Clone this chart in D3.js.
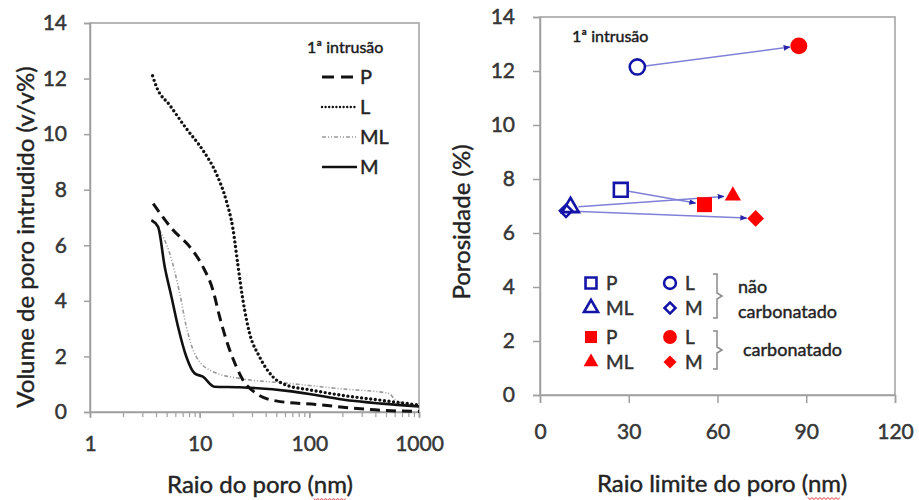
<!DOCTYPE html>
<html>
<head>
<meta charset="utf-8">
<script src="https://cdn.jsdelivr.net/npm/d3@7"></script>
<style>
  html, body { margin: 0; padding: 0; background: #fff; }
  svg { display: block; font-family: Lato, "Open Sans", sans-serif; }
  svg text { stroke: #2a2a2a; stroke-width: 0.45px; }
</style>
</head>
<body>
<svg id="chart" width="919" height="500"></svg>
<script>
// ---- Left panel: cumulative intruded pore volume vs pore radius ----
const poreSeries = ["P", "L", "ML", "M"];
const radiusP  = [3.77, 5.72, 8.1, 10.7, 13.2, 15.2, 17.5, 21.6, 24.8, 32.7, 49.6, 115, 460, 1000];
const volumeP  = [7.5, 6.55, 5.95, 5.23, 4.39, 3.43, 2.59, 1.63, 1.15, 0.67, 0.4, 0.27, 0.06, 0.02];
const radiusL  = [3.72, 4.04, 5.34, 7.56, 10.7, 14.1, 17.5, 20.1, 22.3, 24.8, 28.5, 35.1, 46.4, 61.5, 100, 200, 500, 1000];
const volumeL  = [12.1, 11.7, 11.04, 10.2, 9.42, 8.6, 7.6, 6.6, 5.3, 4.03, 2.84, 1.99, 1.27, 0.97, 0.8, 0.6, 0.4, 0.25];
const radiusML = [3.63, 4.2, 5.34, 6.58, 7.56, 9.3, 13.2, 23.1, 61.5, 200, 533, 610, 1000];
const volumeML = [6.9, 6.6, 5.7, 4.27, 3.07, 1.99, 1.45, 1.21, 1.04, 0.83, 0.67, 0.43, 0.22];
const radiusM  = [3.63, 4.17, 4.8, 5.53, 6.35, 7.56, 9.0, 10.7, 13.6, 23.1, 65.8, 100, 200, 460, 1000];
const volumeM  = [6.9, 6.67, 5.23, 4.15, 3.07, 1.99, 1.39, 1.27, 0.91, 0.89, 0.75, 0.65, 0.45, 0.3, 0.2];
const leftYTicks = [0, 2, 4, 6, 8, 10, 12, 14];
const leftXTicks = [1, 10, 100, 1000];

// ---- Right panel: porosity vs threshold pore radius ----
const mixes = ["P", "L", "ML", "M"];
const radiusNonCarb = [27.3, 32.9, 10.3, 8.8];
const porosityNonCarb = [7.6, 12.15, 6.95, 6.82];
const radiusCarb = [55.6, 87.5, 65.2, 72.9];
const porosityCarb = [7.05, 12.93, 7.38, 6.54];
const rightXTicks = [0, 30, 60, 90, 120];
const rightYTicks = [0, 2, 4, 6, 8, 10, 12, 14];

const svg = d3.select("#chart");
const axisGray = "#a0a0a0";
const textCol = "#3a3a3a";
const blue = "#1414a8";
const red = "#ff0000";

// ================= LEFT PANEL =================
const xL = d3.scaleLog().domain([1, 1000]).range([90, 419]);
const yL = d3.scaleLinear().domain([0, 14]).range([412, 23]);

const gL = svg.append("g");
gL.append("rect").attr("x", 90).attr("y", 23).attr("width", 329).attr("height", 389)
  .attr("fill", "none").attr("stroke", axisGray).attr("stroke-width", 1.5);

gL.append("g").attr("transform", "translate(90,0)")
  .call(d3.axisLeft(yL).tickValues(leftYTicks).tickSize(6).tickPadding(17).tickFormat(d3.format("d")))
  .call(g => g.select(".domain").attr("stroke", axisGray).attr("stroke-width", 1.5))
  .call(g => g.selectAll(".tick line").attr("stroke", axisGray).attr("stroke-width", 1.5))
  .call(g => g.selectAll("text").attr("font-size", 21).attr("fill", textCol).attr("font-family", "Lato"));

// x axis: minor log ticks, then labelled decades
const minorTicks = xL.ticks();
gL.append("g").attr("transform", "translate(0,412)")
  .call(d3.axisBottom(xL).tickValues(minorTicks).tickSize(5).tickFormat(""))
  .call(g => g.select(".domain").attr("stroke", axisGray).attr("stroke-width", 1.5))
  .call(g => g.selectAll(".tick line").attr("stroke", axisGray).attr("stroke-width", 1.2));
gL.append("g").attr("transform", "translate(0,412)")
  .call(d3.axisBottom(xL).tickValues(leftXTicks).tickSize(6).tickPadding(18).tickFormat(d3.format("d")))
  .call(g => g.select(".domain").remove())
  .call(g => g.selectAll(".tick line").attr("stroke", axisGray).attr("stroke-width", 1.5))
  .call(g => g.selectAll("text").attr("font-size", 21).attr("fill", textCol).attr("font-family", "Lato"));

const lineL = d3.line().x(d => xL(d[0])).y(d => yL(d[1])).curve(d3.curveMonotoneX);
const curveStyles = {
  P:  { stroke: "#111", width: 3, dash: "10,6", cap: "butt" },
  L:  { stroke: "#111", width: 3.4, dash: "0,4.6", cap: "round" },
  ML: { stroke: "#9a9a9a", width: 1.6, dash: "4,2,1,2,1,2", cap: "butt" },
  M:  { stroke: "#111", width: 2.6, dash: null, cap: "butt" }
};
const curveData = {
  P: d3.zip(radiusP, volumeP),
  L: d3.zip(radiusL, volumeL),
  ML: d3.zip(radiusML, volumeML),
  M: d3.zip(radiusM, volumeM)
};
["ML", "L", "P", "M"].forEach(k => {
  const s = curveStyles[k];
  gL.append("path").attr("d", lineL(curveData[k]))
    .attr("fill", "none").attr("stroke", s.stroke).attr("stroke-width", s.width)
    .attr("stroke-dasharray", s.dash).attr("stroke-linecap", s.cap)
    .attr("stroke-linejoin", "round");
});

// legend
gL.append("text").attr("x", 307).attr("y", 53).text("1ª intrusão")
  .attr("font-size", 16).attr("fill", "#111");
poreSeries.forEach((k, i) => {
  const y = 77 + i * 30;
  const s = curveStyles[k];
  gL.append("line").attr("x1", 322).attr("x2", 357).attr("y1", y).attr("y2", y)
    .attr("stroke", s.stroke).attr("stroke-width", k === "L" ? 2.4 : s.width)
    .attr("stroke-dasharray", k === "P" ? "12,7" : (k === "L" ? "0,3.6" : s.dash))
    .attr("stroke-linecap", s.cap);
  gL.append("text").attr("x", 360).attr("y", y).attr("dy", "0.36em").text(k)
    .attr("font-size", 20).attr("fill", "#222");
});

function squiggle(g, x0, x1, y) {
  const pts = [];
  for (let x = x0, i = 0; x <= x1; x += 2, i++) pts.push([x, y + (i % 2 ? 1.5 : -0.5)]);
  g.append("path").attr("d", d3.line()(pts)).attr("fill", "none")
    .attr("stroke", "#e03030").attr("stroke-width", 1);
}
const xtL = gL.append("text").attr("x", 260).attr("y", 493).attr("text-anchor", "middle")
  .attr("font-size", 24).attr("fill", "#222").text("Raio do poro (nm)");
gL.append("text").attr("transform", "translate(34,237) rotate(-90)").attr("text-anchor", "middle")
  .attr("font-size", 24).attr("fill", "#222").text("Volume de poro intrudido (v/v%)");

// ================= RIGHT PANEL =================
const xR = d3.scaleLinear().domain([0, 120]).range([540, 895]);
const yR = d3.scaleLinear().domain([0, 14]).range([395, 17]);
const gR = svg.append("g");

gR.append("rect").attr("x", 540).attr("y", 17).attr("width", 355).attr("height", 378)
  .attr("fill", "none").attr("stroke", axisGray).attr("stroke-width", 1.5);

gR.append("g").attr("transform", "translate(540,0)")
  .call(d3.axisLeft(yR).tickValues(rightYTicks).tickSize(7).tickPadding(18).tickFormat(d3.format("d")))
  .call(g => g.select(".domain").attr("stroke", axisGray).attr("stroke-width", 1.5))
  .call(g => g.selectAll(".tick line").attr("stroke", axisGray).attr("stroke-width", 1.5))
  .call(g => g.selectAll("text").attr("font-size", 21).attr("fill", textCol).attr("font-family", "Lato"));
gR.append("g").attr("transform", "translate(0,395)")
  .call(d3.axisBottom(xR).tickValues(rightXTicks).tickSize(8).tickPadding(21).tickFormat(d3.format("d")))
  .call(g => g.select(".domain").attr("stroke", axisGray).attr("stroke-width", 1.5))
  .call(g => g.selectAll(".tick line").attr("stroke", axisGray).attr("stroke-width", 1.5))
  .call(g => g.selectAll("text").attr("font-size", 21).attr("fill", textCol).attr("font-family", "Lato"));

// marker shapes; the diamond is a square turned by 45 degrees
const symbolOf = { P: d3.symbolSquare, L: d3.symbolCircle, ML: d3.symbolTriangle, M: d3.symbolSquare };
const rotOf = { P: 0, L: 0, ML: 0, M: 45 };
const openSize = { P: 190, L: 180, ML: 120, M: 75 };
const filledSize = { P: 225, L: 225, ML: 115, M: 140 };
const legendOpenSize = { P: 120, L: 110, ML: 85, M: 60 };
const legendFilledSize = { P: 144, L: 150, ML: 95, M: 85 };

svg.append("defs").append("marker").attr("id", "arrowhead")
  .attr("viewBox", "0 0 10 10").attr("refX", 9).attr("refY", 5)
  .attr("markerWidth", 7).attr("markerHeight", 7).attr("orient", "auto")
  .attr("markerUnits", "userSpaceOnUse")
  .append("path").attr("d", "M0,1 L10,5 L0,9 Z").attr("fill", "#2525a8");

mixes.forEach((k, i) => {
  const x0 = xR(radiusNonCarb[i]), y0 = yR(porosityNonCarb[i]);
  const x1 = xR(radiusCarb[i]), y1 = yR(porosityCarb[i]);
  const len = Math.hypot(x1 - x0, y1 - y0);
  const ux = (x1 - x0) / len, uy = (y1 - y0) / len;
  gR.append("line")
    .attr("x1", x0 + ux * 8).attr("y1", y0 + uy * 8)
    .attr("x2", x1 - ux * 9).attr("y2", y1 - uy * 9)
    .attr("stroke", "#8080d8").attr("stroke-width", 1.5)
    .attr("marker-end", "url(#arrowhead)");
});

function marker(g, k, x, y, size, filled) {
  g.append("path")
    .attr("transform", `translate(${x},${y}) rotate(${rotOf[k]})`)
    .attr("d", d3.symbol().type(symbolOf[k]).size(size)())
    .attr("fill", filled ? red : "none")
    .attr("stroke", filled ? "none" : blue).attr("stroke-width", 2.6);
}
mixes.forEach((k, i) => marker(gR, k, xR(radiusNonCarb[i]), yR(porosityNonCarb[i]), openSize[k], false));
mixes.forEach((k, i) => marker(gR, k, xR(radiusCarb[i]), yR(porosityCarb[i]), filledSize[k], true));

gR.append("text").attr("x", 572).attr("y", 42).text("1ª intrusão")
  .attr("font-size", 16).attr("fill", "#111");

// legend grid
const legendRows = [283, 308, 337, 362];
const legendCols = [591, 670];
const legendItems = [
  { k: "P", row: 0, col: 0, filled: false }, { k: "L", row: 0, col: 1, filled: false },
  { k: "ML", row: 1, col: 0, filled: false }, { k: "M", row: 1, col: 1, filled: false },
  { k: "P", row: 2, col: 0, filled: true }, { k: "L", row: 2, col: 1, filled: true },
  { k: "ML", row: 3, col: 0, filled: true }, { k: "M", row: 3, col: 1, filled: true }
];
legendItems.forEach(it => {
  const cx = legendCols[it.col], cy = legendRows[it.row];
  marker(gR, it.k, cx, cy, it.filled ? legendFilledSize[it.k] : legendOpenSize[it.k], it.filled);
  gR.append("text").attr("x", cx + 15).attr("y", cy).attr("dy", "0.36em")
    .text(it.k).attr("font-size", 19).attr("fill", "#333");
});

function brace(y0, y1) {
  const x = 717, ym = (y0 + y1) / 2;
  const p = d3.path();
  p.moveTo(x - 4, y0); p.lineTo(x, y0); p.lineTo(x, ym - 3); p.lineTo(x + 5, ym);
  p.lineTo(x, ym + 3); p.lineTo(x, y1); p.lineTo(x - 4, y1);
  gR.append("path").attr("d", p.toString()).attr("fill", "none")
    .attr("stroke", "#8a8a8a").attr("stroke-width", 1.5);
}
brace(274, 318);
brace(331, 369);
gR.append("text").attr("x", 738).attr("y", 287).attr("dy", "0.36em").text("não")
  .attr("font-size", 18).attr("fill", "#222");
gR.append("text").attr("x", 738).attr("y", 312).attr("dy", "0.36em").text("carbonatado")
  .attr("font-size", 18).attr("fill", "#222");
gR.append("text").attr("x", 743).attr("y", 350).attr("dy", "0.36em").text("carbonatado")
  .attr("font-size", 18).attr("fill", "#222");

const xtR = gR.append("text").attr("x", 722).attr("y", 492).attr("text-anchor", "middle")
  .attr("font-size", 24).attr("fill", "#222").text("Raio limite do poro (nm)");
gR.append("text").attr("transform", "translate(470,222) rotate(-90)").attr("text-anchor", "middle")
  .attr("font-size", 24).attr("fill", "#222").text("Porosidade (%)");

// spell-check style underline beneath "nm" in both titles
[[xtL, "Raio do poro (".length], [xtR, "Raio limite do poro (".length]].forEach(([t, idx]) => {
  const node = t.node();
  const start = node.getStartPositionOfChar(idx).x;
  const end = node.getEndPositionOfChar(idx + 1).x;
  squiggle(svg, start, end, +t.attr("y") + 6);
});
</script>
</body>
</html>
